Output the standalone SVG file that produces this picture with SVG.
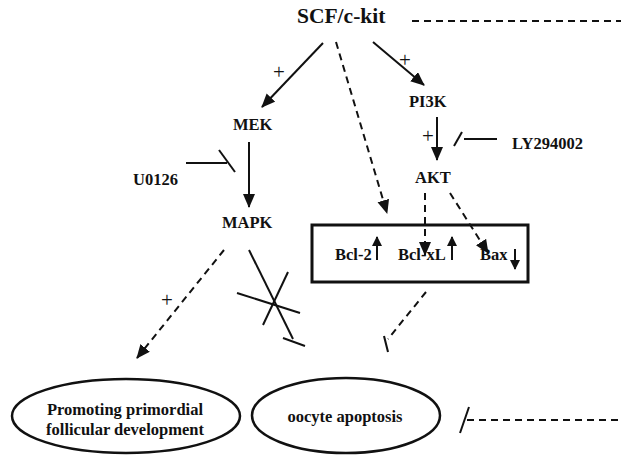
<svg xmlns="http://www.w3.org/2000/svg" width="621" height="457" viewBox="0 0 621 457">
<style>
.t{font-family:"Liberation Serif","Times New Roman",serif;font-weight:bold;font-size:16.5px;fill:#111}
.big{font-size:21.5px}
.plus{font-family:"Liberation Serif",serif;font-size:21px;fill:#111;opacity:0.99}
.s{stroke:#111;stroke-width:2;fill:none}
.d{stroke:#111;stroke-width:2;fill:none;stroke-dasharray:7 5}
.shape{stroke:#111;stroke-width:2.5;fill:#fff}
</style>
<defs>
<marker id="ah" markerUnits="userSpaceOnUse" markerWidth="16" markerHeight="14" refX="13" refY="6" orient="auto">
<path d="M0,0 L14,6 L0,12 z" fill="#111"/>
</marker>
<marker id="ahs" markerUnits="userSpaceOnUse" markerWidth="12" markerHeight="12" refX="9" refY="5" orient="auto">
<path d="M0,0 L10,5 L0,10 z" fill="#111"/>
</marker>
</defs>
<rect width="621" height="457" fill="#fff"/>

<g id="connectors">
<line class="d" x1="412" y1="21" x2="621" y2="21"/>
<line class="s" x1="323" y1="43" x2="262" y2="107" marker-end="url(#ah)"/>
<line class="d" x1="336" y1="42" x2="387" y2="213" marker-end="url(#ah)"/>
<line class="s" x1="373" y1="42" x2="424" y2="85" marker-end="url(#ah)"/>
<line class="s" x1="437" y1="117" x2="437" y2="160" marker-end="url(#ah)"/>
<line class="s" x1="249" y1="142" x2="249" y2="207" marker-end="url(#ah)"/>
<line class="s" x1="186" y1="163" x2="227" y2="163"/>
<line class="s" x1="219" y1="150" x2="235" y2="172"/>
<line class="s" x1="454" y1="146" x2="462" y2="132"/>
<line class="s" x1="464" y1="139" x2="497" y2="139"/>
<line class="d" x1="425" y1="193" x2="425" y2="255" marker-end="url(#ah)"/>
<line class="d" x1="450" y1="193" x2="488" y2="253" marker-end="url(#ah)"/>
<line class="d" x1="224" y1="250" x2="137" y2="358" marker-end="url(#ah)"/>
<line class="s" x1="249" y1="250" x2="293" y2="339"/>
<line class="s" x1="283" y1="338" x2="305" y2="346"/>
<line class="s" x1="288" y1="272" x2="263" y2="325"/>
<line class="s" x1="237" y1="293" x2="300" y2="313"/>
<line class="d" x1="426" y1="292" x2="388" y2="339"/>
<line class="s" x1="384" y1="336" x2="388" y2="352"/>
<line class="s" x1="460" y1="433" x2="469" y2="407"/>
<line class="d" x1="467" y1="420" x2="621" y2="420"/>
<text class="plus" x="273" y="79">+</text>
<text class="plus" x="399" y="67">+</text>
<text class="plus" x="422" y="143">+</text>
<text class="plus" x="161" y="307">+</text>
</g>

<g id="scf"><text class="t big" x="297" y="23">SCF/c-kit</text></g>
<g id="mek"><text class="t" x="233" y="130">MEK</text></g>
<g id="pi3k"><text class="t" x="409" y="107">PI3K</text></g>
<g id="ly294002"><text class="t" x="512" y="149">LY294002</text></g>
<g id="u0126"><text class="t" x="133" y="185">U0126</text></g>
<g id="mapk"><text class="t" x="222" y="228">MAPK</text></g>
<g id="akt"><text class="t" x="415" y="183">AKT</text></g>
<g id="bcl-box">
<rect x="312" y="225" width="216" height="57" fill="none" stroke="#111" stroke-width="3"/>
<text class="t" x="335" y="260">Bcl-2</text>
<line class="s" x1="377" y1="260" x2="377" y2="237" stroke-width="2.5" marker-end="url(#ahs)"/>
<text class="t" x="398" y="260">Bcl-xL</text>
<line class="s" x1="452" y1="260" x2="452" y2="237" stroke-width="2.5" marker-end="url(#ahs)"/>
<text class="t" x="480" y="260">Bax</text>
<line class="s" x1="515" y1="249" x2="515" y2="269" stroke-width="2.5" marker-end="url(#ahs)"/>
</g>
<g id="promoting">
<ellipse class="shape" cx="126" cy="416" rx="114" ry="37"/>
<text class="t" x="125" y="415" text-anchor="middle">Promoting primordial</text>
<text class="t" x="125" y="435" text-anchor="middle">follicular development</text>
</g>
<g id="apoptosis">
<ellipse class="shape" cx="346" cy="415.5" rx="94" ry="37.5"/>
<text class="t" x="345" y="422" text-anchor="middle">oocyte apoptosis</text>
</g>
</svg>
